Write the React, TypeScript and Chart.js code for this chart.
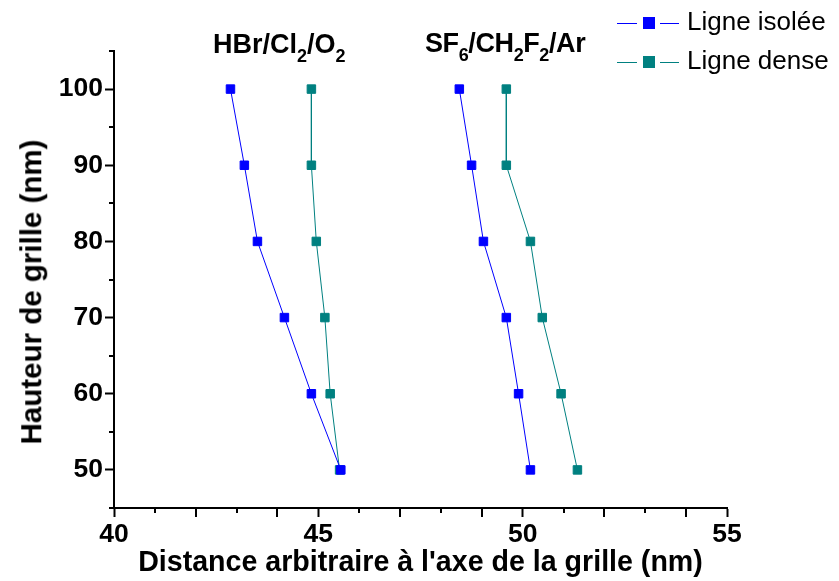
import React, { useEffect, useRef } from "react";
import { Chart, registerables } from "chart.js";

Chart.register(...registerables);

const heights = [100, 90, 80, 70, 60, 50];
const hbrIsolee = [42.85, 43.19, 43.51, 44.17, 44.83, 45.55];
const hbrDense = [44.83, 44.83, 44.95, 45.16, 45.29, 45.52];
const sf6Isolee = [48.45, 48.75, 49.04, 49.6, 49.9, 50.19];
const sf6Dense = [49.6, 49.6, 50.19, 50.48, 50.94, 51.34];

const xMajorTicks = [40, 45, 50, 55];
const xMinorTicks = [41, 42, 43, 44, 46, 47, 48, 49, 51, 52, 53, 54];
const yMajorTicks = [50, 60, 70, 80, 90, 100];
const yMinorTicks = [45, 55, 65, 75, 85, 95, 105];

const legendLabels = ["Ligne isolée", "Ligne dense"];
const xTitle = "Distance arbitraire à l'axe de la grille (nm)";
const yTitle = "Hauteur de grille (nm)";

const BLUE = "#0000ff";
const TEAL = "#008080";
const FONT = '"Liberation Sans", Arial, Helvetica, sans-serif';

const toPoints = (xs: number[]) => xs.map((x, i) => ({ x, y: heights[i] }));

const minorTickPlugin = {
  id: "minorTicks",
  afterDraw(chart: any) {
    const { ctx, chartArea } = chart;
    const xs = chart.scales.x;
    const ys = chart.scales.y;
    ctx.save();
    ctx.strokeStyle = "#000";
    ctx.lineWidth = 2;
    ctx.beginPath();
    for (const v of xMinorTicks) {
      const px = Math.round(xs.getPixelForValue(v));
      const r = v % 5;
      const len = r === 2 || r === 4 ? 9 : 5;
      ctx.moveTo(px, chartArea.bottom);
      ctx.lineTo(px, chartArea.bottom + len);
    }
    for (const v of yMinorTicks) {
      const py = Math.round(ys.getPixelForValue(v));
      ctx.moveTo(chartArea.left, py);
      ctx.lineTo(chartArea.left - 5, py);
    }
    ctx.stroke();
    ctx.restore();
  },
};

function dataset(label: string, xs: number[], color: string) {
  return {
    label,
    data: toPoints(xs),
    borderColor: color,
    backgroundColor: color,
    borderWidth: 1,
    pointStyle: "rect" as const,
    pointRadius: 6,
    pointBorderWidth: 1,
    pointBorderColor: color,
    pointBackgroundColor: color,
    showLine: true,
    tension: 0,
    fill: false,
  };
}

function ChartCanvas() {
  const ref = useRef<HTMLCanvasElement | null>(null);
  useEffect(() => {
    if (!ref.current) return;
    const chart = new Chart(ref.current, {
      type: "line",
      data: {
        datasets: [
          dataset("HBr isolée", hbrIsolee, BLUE),
          dataset("SF6 isolée", sf6Isolee, BLUE),
          dataset("HBr dense", hbrDense, TEAL),
          dataset("SF6 dense", sf6Dense, TEAL),
        ],
      },
      options: {
        responsive: false,
        animation: false,
        devicePixelRatio: 1,
        layout: { padding: { top: 51, right: 112, left: 0, bottom: 0 } },
        plugins: {
          legend: { display: false },
          tooltip: { enabled: false },
        },
        scales: {
          x: {
            type: "linear",
            min: 40,
            max: 55,
            afterBuildTicks: (s: any) => {
              s.ticks = xMajorTicks.map((v) => ({ value: v }));
            },
            afterFit: (s: any) => {
              s.height = 73;
            },
            grid: {
              drawOnChartArea: false,
              drawTicks: true,
              tickLength: 9,
              tickWidth: 2,
              tickColor: "#000",
            },
            border: { display: true, color: "#000", width: 2 },
            ticks: {
              color: "#000",
              font: { family: FONT, size: 26.5, weight: "bold" },
              padding: 2,
              maxRotation: 0,
              autoSkip: false,
            },
            title: {
              display: true,
              text: xTitle,
              color: "#000",
              font: { family: FONT, size: 28.6, weight: "bold" },
              padding: { top: 0, bottom: 1 },
            },
          },
          y: {
            type: "linear",
            min: 45,
            max: 105,
            afterBuildTicks: (s: any) => {
              s.ticks = yMajorTicks.map((v) => ({ value: v }));
            },
            afterFit: (s: any) => {
              s.width = 114;
            },
            grid: {
              drawOnChartArea: false,
              drawTicks: true,
              tickLength: 9,
              tickWidth: 2,
              tickColor: "#000",
            },
            border: { display: true, color: "#000", width: 2 },
            ticks: {
              color: "#000",
              font: { family: FONT, size: 26.5, weight: "bold" },
              padding: 2,
              autoSkip: false,
            },
          },
        },
      },
      plugins: [minorTickPlugin],
    } as any);
    return () => chart.destroy();
  }, []);
  return <canvas ref={ref} width={839} height={581} style={{ display: "block", width: 839, height: 581 }} />;
}

const subStyle: React.CSSProperties = { fontSize: 18, position: "relative", top: 9 };

function LegendRow({ label, color, baseline }: { label: string; color: string; baseline: number }) {
  const cy = baseline - 7;
  return (
    <>
      <div style={{ position: "absolute", left: 617, top: cy, width: 20, height: 1, background: color }} />
      <div style={{ position: "absolute", left: 643, top: cy - 6, width: 12, height: 12, background: color }} />
      <div style={{ position: "absolute", left: 660, top: cy, width: 19, height: 1, background: color }} />
      <div
        style={{
          position: "absolute",
          left: 687,
          top: baseline - 22,
          font: `26px/26px ${FONT}`,
          color: "#000",
          whiteSpace: "nowrap",
        }}
      >
        {label}
      </div>
    </>
  );
}

export default function App() {
  return (
    <div style={{ position: "absolute", left: 0, top: 0, width: 839, height: 581, background: "#fff", overflow: "hidden" }}>
      <ChartCanvas />
      <div
        style={{
          position: "absolute",
          left: 213,
          top: 31.4,
          font: `bold 27px/27px ${FONT}`,
          color: "#000",
          whiteSpace: "nowrap",
        }}
      >
        HBr/Cl<span style={subStyle}>2</span>/O<span style={subStyle}>2</span>
      </div>
      <div
        style={{
          position: "absolute",
          left: 425,
          top: 30.4,
          font: `bold 27px/27px ${FONT}`,
          color: "#000",
          whiteSpace: "nowrap",
          letterSpacing: -0.4,
        }}
      >
        SF<span style={subStyle}>6</span>/CH<span style={subStyle}>2</span>F<span style={subStyle}>2</span>/Ar
      </div>
      <div
        style={{
          position: "absolute",
          left: 31,
          top: 292,
          transform: "translate(-50%, -50%) rotate(-90deg)",
          font: `bold 29.5px/29.5px ${FONT}`,
          color: "#000",
          whiteSpace: "nowrap",
        }}
      >
        {yTitle}
      </div>
      <LegendRow label={legendLabels[0]} color={BLUE} baseline={30} />
      <LegendRow label={legendLabels[1]} color={TEAL} baseline={69} />
    </div>
  );
}
